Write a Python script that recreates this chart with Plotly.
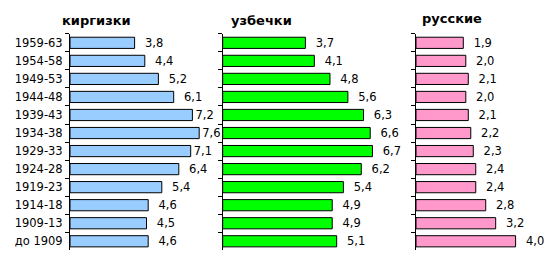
import plotly.graph_objects as go

periods = ["1959-63", "1954-58", "1949-53", "1944-48", "1939-43", "1934-38",
           "1929-33", "1924-28", "1919-23", "1914-18", "1909-13", "до 1909"]
kirgizki = [3.8, 4.4, 5.2, 6.1, 7.2, 7.6, 7.1, 6.4, 5.4, 4.6, 4.5, 4.6]
uzbechki = [3.7, 4.1, 4.8, 5.6, 6.3, 6.6, 6.7, 6.2, 5.4, 4.9, 4.9, 5.1]
russkie = [1.9, 2.0, 2.1, 2.0, 2.1, 2.2, 2.3, 2.4, 2.4, 2.8, 3.2, 4.0]

titles = ["киргизки", "узбечки", "русские"]
series = [kirgizki, uzbechki, russkie]
colors = ["#99CCFF", "#00FF00", "#FF99CC"]

W, H = 556, 262
FONT = "DejaVu Sans"
# pixel layout of each panel: (left, right, x-range max)
panels = [(70, 205, (205 - 70) / 17.0),
          (222.7, 390, (390 - 222.7) / 22.35),
          (416, 552, (552 - 416) / 24.9)]
title_pos = [(96, 20), (261, 20), (452, 18)]
ytop, ybot = 33.8, 250.3

def fmt(v):
    s = f"{v:.1f}".replace(".", ",")
    # the largest labels sit tight against the bar end
    return s if v >= 7.0 else "  " + s

fig = go.Figure()
for i, (vals, col) in enumerate(zip(series, colors)):
    n = "" if i == 0 else str(i + 1)
    l, r, xmax = panels[i]
    fig.add_trace(go.Bar(
        x=vals, y=periods, orientation="h",
        marker=dict(color=col, line=dict(color="black", width=1)),
        text=[fmt(v) for v in vals], textposition="outside",
        textfont=dict(family=FONT, size=11.5, color="black"),
        constraintext="none", cliponaxis=False,
        xaxis="x" + n, yaxis="y" + n, showlegend=False, hoverinfo="skip"))
    fig.layout["xaxis" + n] = dict(
        domain=[l / W, r / W], range=[0, xmax], visible=False,
        anchor="y" + n)
    fig.layout["yaxis" + n] = dict(
        domain=[1 - ybot / H, 1 - ytop / H], anchor="x" + n,
        type="category", categoryorder="array", categoryarray=periods,
        autorange="reversed", showline=True, linecolor="black", linewidth=1,
        ticks="outside", ticklen=4, tickcolor="black", tickson="boundaries",
        showticklabels=(i == 0), showgrid=False, zeroline=False,
        tickfont=dict(family=FONT, size=11.5, color="black"), ticklabelstandoff=4)
    tx, ty = title_pos[i]
    fig.add_annotation(text="<b>" + titles[i] + "</b>", xref="paper", yref="paper",
                       x=tx / W, y=1 - ty / H, xanchor="center", yanchor="middle",
                       showarrow=False, font=dict(family=FONT, size=13, color="black"))

fig.update_layout(width=W, height=H, margin=dict(l=0, r=0, t=0, b=0),
                  paper_bgcolor="white", plot_bgcolor="white", bargap=0.38)
fig.write_html("out.html")
